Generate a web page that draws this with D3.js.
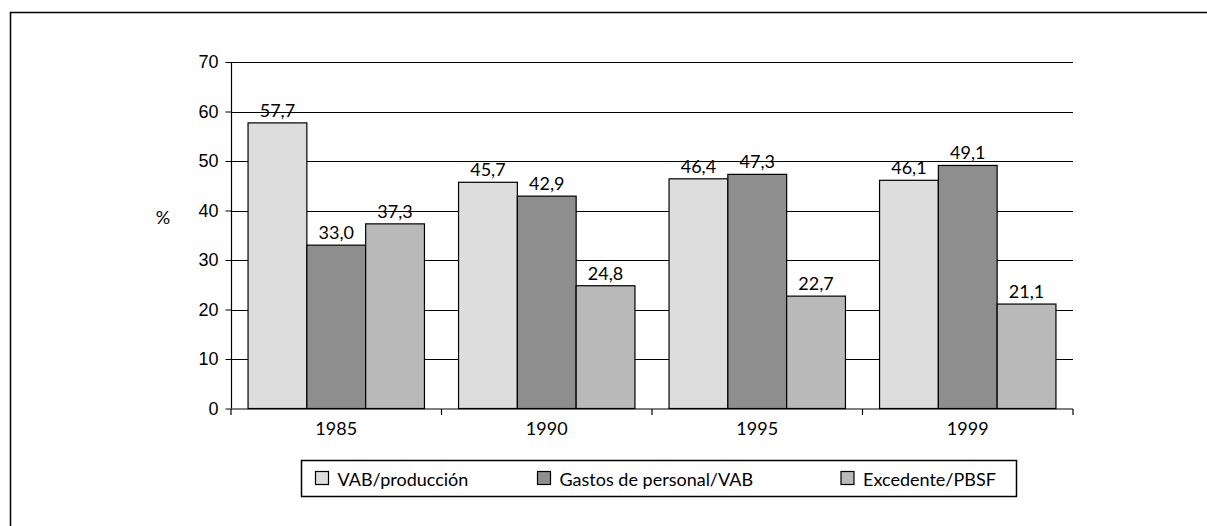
<!DOCTYPE html>
<html>
<head>
<meta charset="utf-8">
<script src="https://cdn.jsdelivr.net/npm/d3@7"></script>
<style>
  body { margin: 0; background: #fff; }
  svg { display: block; font-family: Lato, "DejaVu Sans", sans-serif; }
</style>
</head>
<body>
<svg width="1207" height="526"></svg>
<script>
const years = ["1985", "1990", "1995", "1999"];
const series = ["VAB/producción", "Gastos de personal/VAB", "Excedente/PBSF"];
const vabProduccion = [57.7, 45.7, 46.4, 46.1];
const gastosPersonal = [33.0, 42.9, 47.3, 49.1];
const excedente = [37.3, 24.8, 22.7, 21.1];
const yTicks = [0, 10, 20, 30, 40, 50, 60, 70];

const values = [vabProduccion, gastosPersonal, excedente];
const fills = ["#dddddd", "#8e8e8e", "#b9b9b9"];   // light, dark, mid grey
const fontSize = 18;

const svg = d3.select("svg");

// outer frame, runs off the right and bottom edges
svg.append("rect")
  .attr("x", 10.5).attr("y", 12.5)
  .attr("width", 1300).attr("height", 600)
  .attr("fill", "none").attr("stroke", "#000").attr("stroke-width", 1.5);

const pLeft = 231, pRight = 1073, pTop = 62, pBottom = 408.5;

const x0 = d3.scaleBand().domain(years).range([pLeft, pRight]).padding(0);
const x1 = d3.scaleBand().domain(d3.range(series.length))
  .range([0, x0.bandwidth()]).paddingInner(0).paddingOuter(0.29);
const y = d3.scaleLinear().domain([0, 70]).range([pBottom, pTop]);

// gridlines
svg.append("g").selectAll("line")
  .data(yTicks.filter(d => d > 0))
  .join("line")
  .attr("x1", pLeft).attr("x2", pRight)
  .attr("y1", d => Math.round(y(d)) + 0.5).attr("y2", d => Math.round(y(d)) + 0.5)
  .attr("stroke", "#000").attr("stroke-width", 1);

// bars
const rows = years.map((yr, i) => ({ yr, vals: values.map(s => s[i]) }));
const grp = svg.append("g").selectAll("g")
  .data(rows).join("g")
  .attr("transform", d => `translate(${x0(d.yr)},0)`);

grp.selectAll("rect")
  .data(d => d.vals.map((v, k) => ({ v, k })))
  .join("rect")
  .attr("x", d => x1(d.k))
  .attr("y", d => y(d.v))
  .attr("width", x1.bandwidth())
  .attr("height", d => y(0) - y(d.v))
  .attr("fill", d => fills[d.k])
  .attr("stroke", "#000").attr("stroke-width", 1.2);

grp.selectAll("text")
  .data(d => d.vals.map((v, k) => ({ v, k })))
  .join("text")
  .attr("x", d => x1(d.k) + x1.bandwidth() / 2)
  .attr("y", d => y(d.v) - 6)
  .attr("text-anchor", "middle")
  .attr("font-size", fontSize)
  .text(d => d.v.toFixed(1).replace(".", ","));

// y axis
const yAxis = svg.append("g")
  .attr("transform", `translate(${pLeft + 0.5},0)`)
  .call(d3.axisLeft(y).tickValues(yTicks).tickSize(6).tickPadding(7).tickFormat(d3.format("d")));
yAxis.select(".domain").attr("d", `M0,${pTop}V${pBottom}`).attr("stroke-width", 1.2);
yAxis.selectAll("text").attr("font-size", fontSize).attr("font-family", "inherit").attr("fill", "#000");

// x axis
const xAxis = svg.append("g")
  .attr("transform", `translate(0,${pBottom + 0.5})`);
xAxis.append("line")
  .attr("x1", pLeft).attr("x2", pRight).attr("stroke", "#000").attr("stroke-width", 1.2);
xAxis.selectAll(".tk")
  .data(years.map(yr => x0(yr)).concat([pRight]))
  .join("line").attr("class", "tk")
  .attr("x1", d => d).attr("x2", d => d).attr("y1", 0).attr("y2", 6)
  .attr("stroke", "#000").attr("stroke-width", 1.2);
xAxis.selectAll("text")
  .data(years).join("text")
  .attr("x", d => x0(d) + x0.bandwidth() / 2)
  .attr("y", 26)
  .attr("text-anchor", "middle")
  .attr("font-size", fontSize)
  .text(d => d);

// y title
svg.append("text")
  .attr("x", 163).attr("y", 224)
  .attr("text-anchor", "middle")
  .attr("font-size", fontSize)
  .text("%");

// legend
const lg = svg.append("g");
lg.append("rect")
  .attr("x", 301.5).attr("y", 460.5).attr("width", 715).attr("height", 36)
  .attr("fill", "#fff").attr("stroke", "#000").attr("stroke-width", 1.5);
const legendX = [315.5, 537.5, 841];
const item = lg.selectAll("g.item").data(series).join("g").attr("class", "item")
  .attr("transform", (d, i) => `translate(${legendX[i]},0)`);
item.append("rect")
  .attr("x", 0).attr("y", 471.5).attr("width", 13).attr("height", 13)
  .attr("fill", (d, i) => fills[i]).attr("stroke", "#000").attr("stroke-width", 1.2);
item.append("text")
  .attr("x", 22).attr("y", 485.5)
  .attr("font-size", fontSize)
  .text(d => d);
</script>
</body>
</html>
